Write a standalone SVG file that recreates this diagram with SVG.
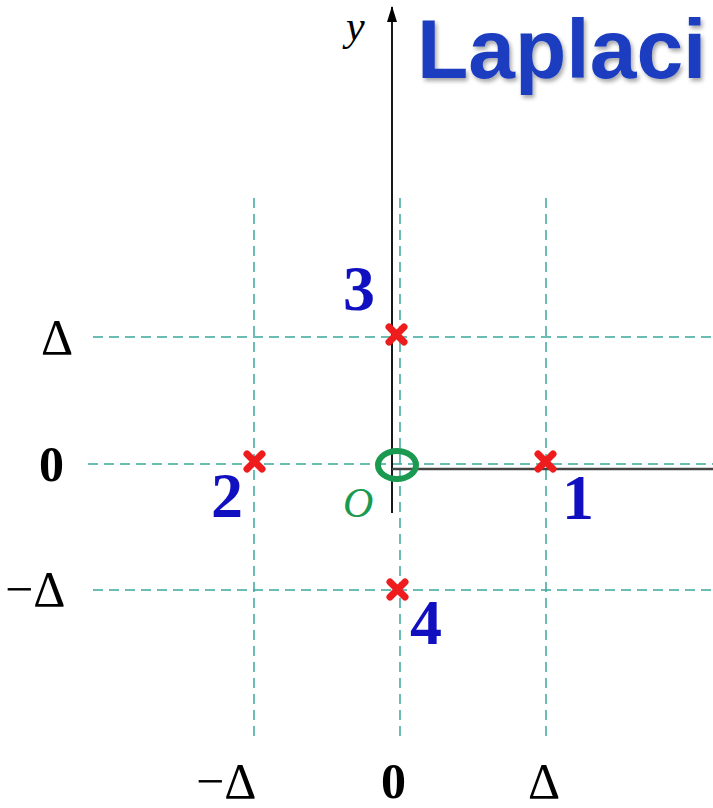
<svg xmlns="http://www.w3.org/2000/svg" width="713" height="808" viewBox="0 0 713 808">
<defs>
<style>
.grid{stroke:#3aa89c;stroke-width:1.5;stroke-dasharray:10,6;fill:none}
.ax{font-family:"Liberation Serif",serif;font-size:50px;fill:#000}
.num{font-family:"Liberation Serif",serif;font-size:64px;font-weight:bold;fill:#1010c0}
.mk{stroke:#ee1c1c;stroke-width:7;stroke-linecap:round}
</style>
<marker id="arr" viewBox="0 0 16 10" refX="15" refY="5" markerWidth="16" markerHeight="10" orient="auto" markerUnits="userSpaceOnUse">
<path d="M0,0 L16,5 L0,10 Z" fill="#000"/>
</marker>
<filter id="sh" x="-5%" y="-10%" width="115%" height="130%">
<feGaussianBlur in="SourceAlpha" stdDeviation="2"/>
<feOffset dx="2" dy="3"/>
<feComponentTransfer><feFuncA type="linear" slope="0.35"/></feComponentTransfer>
<feMerge><feMergeNode/><feMergeNode in="SourceGraphic"/></feMerge>
</filter>
</defs>
<rect width="713" height="808" fill="#fff"/>
<g id="title"><text x="417" y="78" font-family="Liberation Sans,Arial,sans-serif" font-weight="bold" font-size="84" fill="#1a3cc0" filter="url(#sh)">Laplaci</text></g>
<g id="grid">
<line class="grid" x1="254" y1="198" x2="254" y2="742"/>
<line class="grid" x1="400" y1="198" x2="400" y2="742"/>
<line class="grid" x1="546" y1="198" x2="546" y2="742"/>
<line class="grid" x1="93" y1="337" x2="713" y2="337"/>
<line class="grid" x1="88" y1="464" x2="713" y2="464"/>
<line class="grid" x1="93" y1="590" x2="713" y2="590"/>
</g>
<g id="connectors">
<line x1="392" y1="513" x2="392" y2="7" stroke="#000" stroke-width="1.8" marker-end="url(#arr)"/>
<line x1="392" y1="469" x2="713" y2="469" stroke="#444" stroke-width="2.5"/>
</g>
<g id="axis-labels">
<text x="346" y="40" font-family="Liberation Serif,serif" font-style="italic" font-size="42" fill="#000">y</text>
<text class="ax" x="41" y="354">Δ</text>
<text class="ax" x="39" y="481" font-weight="bold">0</text>
<text class="ax" x="5" y="606">−Δ</text>
<text class="ax" x="196" y="798">−Δ</text>
<text class="ax" x="381" y="798" font-weight="bold">0</text>
<text class="ax" x="528" y="798">Δ</text>
</g>
<g id="origin">
<ellipse cx="397" cy="465" rx="19" ry="14" fill="none" stroke="#1a9a50" stroke-width="6"/>
<text x="343" y="517" font-family="Liberation Serif,serif" font-style="italic" font-size="42" fill="#1a9a50">O</text>
</g>
<g id="p1"><path class="mk" d="M538,454 L553,469 M553,454 L538,469"/><text class="num" x="562" y="519">1</text></g>
<g id="p2"><path class="mk" d="M247,454 L262,469 M262,454 L247,469"/><text class="num" x="211" y="517">2</text></g>
<g id="p3"><path class="mk" d="M389,327 L404,342 M404,327 L389,342"/><text class="num" x="343" y="310">3</text></g>
<g id="p4"><path class="mk" d="M390,582 L405,597 M405,582 L390,597"/><text class="num" x="410" y="644">4</text></g>
</svg>
